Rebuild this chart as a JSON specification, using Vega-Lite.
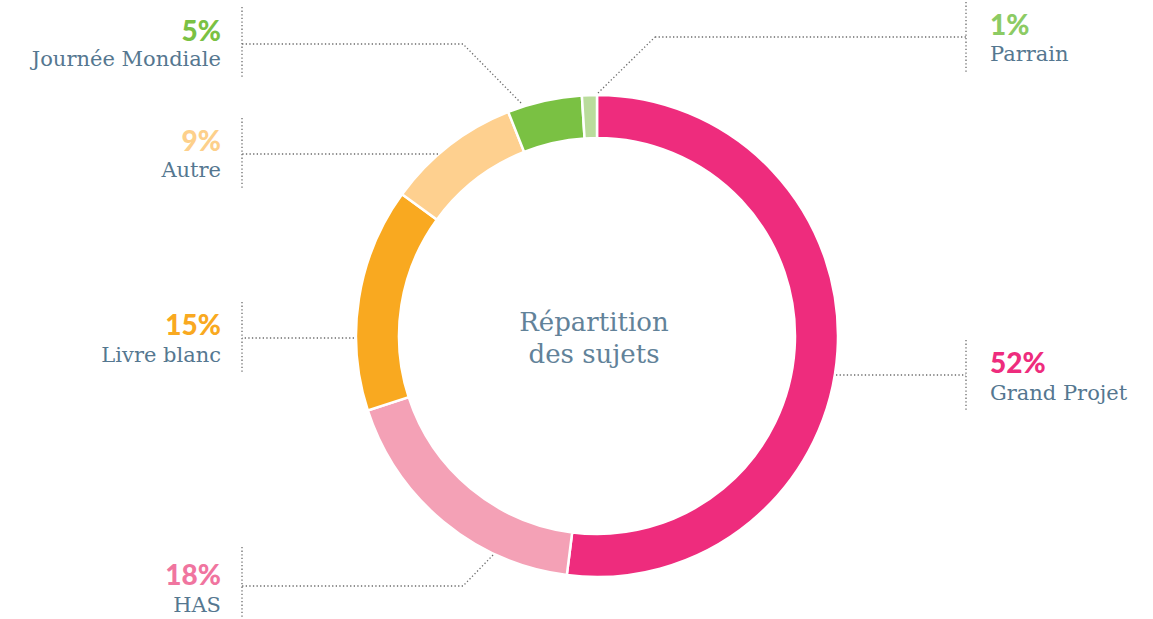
{
  "$schema": "https://vega.github.io/schema/vega-lite/v6.json",
  "width": 1153,
  "height": 619,
  "padding": 0,
  "autosize": {"type": "none"},
  "background": "white",
  "config": {"view": {"stroke": null}},
  "datasets": {
    "slices": [
      {"cat": "Grand Projet", "value": 52, "rank": 1, "cx": 597, "cy": 336},
      {"cat": "HAS", "value": 18, "rank": 2, "cx": 597, "cy": 336},
      {"cat": "Livre blanc", "value": 15, "rank": 3, "cx": 597, "cy": 336},
      {"cat": "Autre", "value": 9, "rank": 4, "cx": 597, "cy": 336},
      {"cat": "Journée Mondiale", "value": 5, "rank": 5, "cx": 597, "cy": 336},
      {"cat": "Parrain", "value": 1, "rank": 6, "cx": 597, "cy": 336}
    ],
    "segs": [
      {"x": 598, "y": 93, "x2": 655, "y2": 37},
      {"x": 655, "y": 37, "x2": 966, "y2": 37},
      {"x": 966, "y": 2, "x2": 966, "y2": 72},
      {"x": 521, "y": 103, "x2": 463, "y2": 44},
      {"x": 463, "y": 44, "x2": 242, "y2": 44},
      {"x": 242, "y": 7, "x2": 242, "y2": 79},
      {"x": 438, "y": 154, "x2": 242, "y2": 154},
      {"x": 242, "y": 118, "x2": 242, "y2": 189},
      {"x": 354, "y": 338, "x2": 242, "y2": 338},
      {"x": 242, "y": 302, "x2": 242, "y2": 372},
      {"x": 493, "y": 555, "x2": 463, "y2": 586},
      {"x": 463, "y": 586, "x2": 242, "y2": 586},
      {"x": 242, "y": 547, "x2": 242, "y2": 619},
      {"x": 836, "y": 375, "x2": 966, "y2": 375},
      {"x": 966, "y": 340, "x2": 966, "y2": 410}
    ],
    "labels": [
      {"name": "Parrain", "pct": "1%", "side": "right", "x": 990, "yp": 35, "yn": 61, "pc": "#8CCB64"},
      {"name": "Journée Mondiale", "pct": "5%", "side": "left", "x": 221, "yp": 41, "yn": 66, "pc": "#7AC143"},
      {"name": "Autre", "pct": "9%", "side": "left", "x": 221, "yp": 151, "yn": 177, "pc": "#FDD08B"},
      {"name": "Livre blanc", "pct": "15%", "side": "left", "x": 221, "yp": 335, "yn": 362, "pc": "#F9A920"},
      {"name": "HAS", "pct": "18%", "side": "left", "x": 221, "yp": 585, "yn": 612, "pc": "#F0759F"},
      {"name": "Grand Projet", "pct": "52%", "side": "right", "x": 990, "yp": 373, "yn": 400, "pc": "#EE2C7D"}
    ],
    "center": [
      {"t": "Répartition", "x": 594, "y": 331},
      {"t": "des sujets", "x": 594, "y": 363}
    ]
  },
  "layer": [
    {
      "data": {"name": "slices"},
      "mark": {"type": "arc", "innerRadius": 198, "outerRadius": 241, "stroke": "white", "strokeWidth": 2.5},
      "encoding": {
        "theta": {"field": "value", "type": "quantitative", "stack": true},
        "order": {"field": "rank", "type": "quantitative"},
        "color": {
          "field": "cat", "type": "nominal", "legend": null,
          "scale": {
            "domain": ["Grand Projet", "HAS", "Livre blanc", "Autre", "Journée Mondiale", "Parrain"],
            "range": ["#EE2C7D", "#F4A1B6", "#F9A920", "#FED08F", "#7AC143", "#BADC9C"]
          }
        },
        "x": {"field": "cx", "type": "quantitative", "scale": {"domain": [0, 1153], "nice": false, "zero": false}, "axis": null},
        "y": {"field": "cy", "type": "quantitative", "scale": {"domain": [0, 619], "nice": false, "zero": false, "reverse": true}, "axis": null}
      }
    },
    {
      "data": {"name": "segs"},
      "mark": {"type": "rule", "color": "#6b6b6b", "strokeWidth": 1.3, "strokeDash": [1.3, 2.3]},
      "encoding": {
        "x": {"field": "x", "type": "quantitative"},
        "y": {"field": "y", "type": "quantitative"},
        "x2": {"field": "x2"},
        "y2": {"field": "y2"}
      }
    },
    {
      "data": {"name": "labels"},
      "transform": [{"filter": "datum.side === 'left'"}],
      "mark": {"type": "text", "align": "right", "baseline": "alphabetic", "font": "Lato", "fontWeight": 900, "fontSize": 28},
      "encoding": {
        "x": {"field": "x", "type": "quantitative"},
        "y": {"field": "yp", "type": "quantitative"},
        "text": {"field": "pct"},
        "color": {"field": "pc", "type": "nominal", "scale": null}
      }
    },
    {
      "data": {"name": "labels"},
      "transform": [{"filter": "datum.side === 'right'"}],
      "mark": {"type": "text", "align": "left", "baseline": "alphabetic", "font": "Lato", "fontWeight": 900, "fontSize": 28},
      "encoding": {
        "x": {"field": "x", "type": "quantitative"},
        "y": {"field": "yp", "type": "quantitative"},
        "text": {"field": "pct"},
        "color": {"field": "pc", "type": "nominal", "scale": null}
      }
    },
    {
      "data": {"name": "labels"},
      "transform": [{"filter": "datum.side === 'left'"}],
      "mark": {"type": "text", "align": "right", "baseline": "alphabetic", "font": "DejaVu Serif", "fontSize": 21, "color": "#557790"},
      "encoding": {
        "x": {"field": "x", "type": "quantitative"},
        "y": {"field": "yn", "type": "quantitative"},
        "text": {"field": "name"}
      }
    },
    {
      "data": {"name": "labels"},
      "transform": [{"filter": "datum.side === 'right'"}],
      "mark": {"type": "text", "align": "left", "baseline": "alphabetic", "font": "DejaVu Serif", "fontSize": 21, "color": "#557790"},
      "encoding": {
        "x": {"field": "x", "type": "quantitative"},
        "y": {"field": "yn", "type": "quantitative"},
        "text": {"field": "name"}
      }
    },
    {
      "data": {"name": "center"},
      "mark": {"type": "text", "align": "center", "baseline": "alphabetic", "font": "DejaVu Serif", "fontSize": 26, "color": "#628299"},
      "encoding": {
        "x": {"field": "x", "type": "quantitative"},
        "y": {"field": "y", "type": "quantitative"},
        "text": {"field": "t"}
      }
    }
  ]
}
